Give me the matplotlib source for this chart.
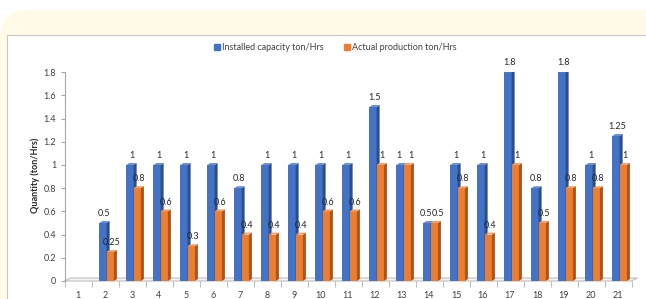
import matplotlib
matplotlib.use("Agg")
import matplotlib.pyplot as plt
from matplotlib.patches import Rectangle, Polygon, FancyBboxPatch
from matplotlib.lines import Line2D

categories = [str(i) for i in range(1, 22)]
installed = [0, 0.5, 1, 1, 1, 1, 0.8, 1, 1, 1, 1, 1.5, 1, 0.5, 1, 1, 1.8, 0.8, 1.8, 1, 1.25]
actual = [0, 0.25, 0.8, 0.6, 0.3, 0.6, 0.4, 0.4, 0.4, 0.6, 0.6, 1, 1, 0.5, 0.8, 0.4, 1, 0.5, 0.8, 0.8, 1]
series_names = ["Installed capacity ton/Hrs", "Actual production ton/Hrs"]
y_ticks = [0, 0.2, 0.4, 0.6, 0.8, 1, 1.2, 1.4, 1.6, 1.8]
y_tick_labels = ["0", "0.2", "0.4", "0.6", "0.8", "1", "1.2", "1.4", "1.6", "1.8"]
y_label = "Quantity (ton/Hrs)"

FONT = ["Lato", "DejaVu Sans"]
plt.rcParams['font.family'] = FONT

W, H = 646, 299
fig = plt.figure(figsize=(W / 100, H / 100), dpi=100)
fig.patch.set_facecolor("white")

# background decoration in pixel coordinates
bg = fig.add_axes([0, 0, 1, 1], zorder=0)
bg.set_xlim(0, W)
bg.set_ylim(H, 0)
bg.axis("off")
bg.add_patch(FancyBboxPatch((0, 10), W + 40, H + 40, boxstyle="round,pad=0,rounding_size=28",
                            facecolor="#FFFBE6", edgecolor="none"))
bg.add_patch(Rectangle((7, 35), W, H, facecolor="white", edgecolor="#C8C8C8", linewidth=0.8))

# main axes
x0_px, x1_px = 64.5, 631.5
y0_px, y1_px = 281, 72.2
ax = fig.add_axes([x0_px / W, (H - y0_px) / H, (x1_px - x0_px) / W, (y0_px - y1_px) / H], zorder=1)
ax.set_facecolor("none")
n = len(categories)
ax.set_xlim(0.5, n + 0.5)
ax.set_ylim(0, 1.8)
for s in ["top", "right", "bottom"]:
    ax.spines[s].set_visible(False)
ax.spines["left"].set_color("#A6A6A6")
ax.spines["left"].set_linewidth(0.8)

px_x = (n) / (x1_px - x0_px)     # data units per px (x)
px_y = 1.8 / (y0_px - y1_px)     # data units per px (y)
dx, dy = 3 * px_x, 2 * px_y

# 3D floor
floor_col = "#BFBFBF"
ax.add_patch(Polygon([(0.5, 0), (n + 0.5, 0), (n + 0.5 + 2 * dx, 3 * px_y), (0.5 + 2 * dx, 3 * px_y)],
                     closed=True, facecolor="#F4F4F4", edgecolor=floor_col, linewidth=0.8,
                     clip_on=False, zorder=1))

bw = 0.27
blue = ("#4472C4", "#2C4F8C", "#6A90D6")
orange = ("#ED7D31", "#A9551C", "#F4A066")


def bar3d(x, h, cols, z):
    if h <= 0:
        return
    front, side, top = cols
    ax.add_patch(Rectangle((x, 0), bw, h, facecolor=front, edgecolor="none", zorder=z))
    ax.add_patch(Polygon([(x + bw, 0), (x + bw + dx, dy), (x + bw + dx, h + dy), (x + bw, h)],
                         closed=True, facecolor=side, edgecolor="none", zorder=z))
    ax.add_patch(Polygon([(x, h), (x + bw, h), (x + bw + dx, h + dy), (x + dx, h + dy)],
                         closed=True, facecolor=top, edgecolor="none", zorder=z))


for i in range(n):
    c = i + 1
    xb = c - 0.21
    xo = c + 0.06
    bar3d(xb, installed[i], blue, 2 + i * 0.01)
    bar3d(xo, actual[i], orange, 2.005 + i * 0.01)

for i in range(n):
    c = i + 1
    same = installed[i] == actual[i]
    if installed[i] > 0:
        ax.annotate(f"{installed[i]:g}", (c - 0.21 + (bw + dx) / 2, installed[i] + dy),
                    xytext=(-2 if same else 0, 2), textcoords="offset points", ha="center", va="bottom",
                    fontsize=6.5, color="#262626", zorder=5, annotation_clip=False)
    if actual[i] > 0:
        ax.annotate(f"{actual[i]:g}", (c + 0.06 + (bw + dx) / 2, actual[i] + dy),
                    xytext=(1.5 if same else 0, 2), textcoords="offset points", ha="center", va="bottom",
                    fontsize=6.5, color="#262626", zorder=5, annotation_clip=False)

ax.set_yticks(y_ticks)
ax.set_yticklabels(y_tick_labels, fontsize=6.5, color="#404040")
ax.tick_params(axis="y", direction="out", length=3, width=0.8, color="#A6A6A6", pad=3)
ax.set_xticks(range(1, n + 1))
ax.set_xticklabels(categories, fontsize=6.5, color="#404040")
ax.set_xticks([k + 0.5 for k in range(0, n + 1)], minor=True)
ax.tick_params(axis="x", which="major", length=0, pad=7)
ax.tick_params(axis="x", which="minor", length=4, width=0.8, color="#BFBFBF", direction="out")

fig.text(35 / W, 1 - 175 / H, y_label, rotation=90, ha="center", va="center",
         fontsize=6.5, fontweight="bold", color="#262626")

handles = [Line2D([], [], marker="s", linestyle="none", markersize=4, color=blue[0]),
           Line2D([], [], marker="s", linestyle="none", markersize=4, color=orange[0])]
fig.legend(handles, series_names, loc="center", bbox_to_anchor=(335 / W, 1 - 48 / H), ncol=2,
           frameon=False, fontsize=6.5, handlelength=0.8, handletextpad=0.2, columnspacing=2.2,
           labelcolor="#404040")

fig.savefig("out.png", dpi=100)
